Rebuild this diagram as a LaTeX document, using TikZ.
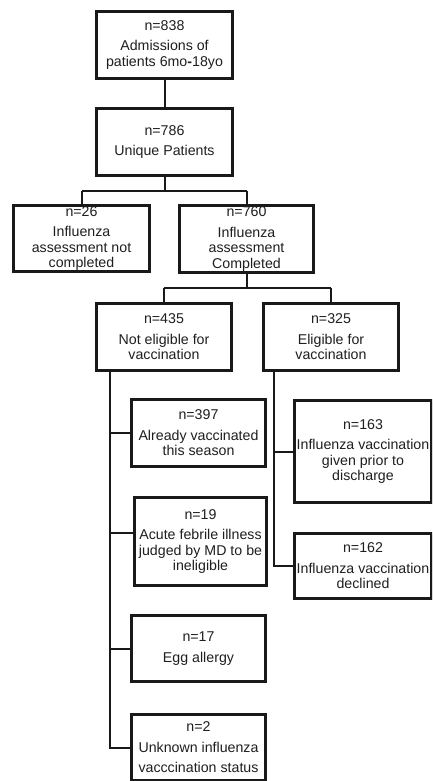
\documentclass[tikz,border=0pt]{standalone}
\usepackage{fontspec}
\setmainfont{Liberation Sans}
\usetikzlibrary{shadows}
\begin{document}
\begin{tikzpicture}[x=1pt,y=-1pt,
  box/.style={draw=black!90, line width=2.8pt, fill=white, align=center, inner sep=1pt,
    font=\fontsize{14.2}{15.5}\selectfont, text=black!88,
    drop shadow={shadow xshift=1.2pt, shadow yshift=-1.2pt, opacity=0.3, fill=black}},
  conn/.style={draw=black!90, line width=2pt}]
\useasboundingbox (0,0) rectangle (432,781);
\begin{scope}
\clip (0,0) rectangle (432,781);
\node[box, minimum width=136.2pt, minimum height=67.2pt] (b1) at (164.5,45) {n=838\\[5pt]Admissions of\\patients 6mo\textbf{-}18yo};
\node[box, minimum width=136.2pt, minimum height=67.2pt] (b2) at (164.5,142) {n=786\\[5pt]Unique Patients};
\node[box, minimum width=136.2pt, minimum height=64.2pt] (b3) at (81.5,238.5) {n=26\\[5pt]Influenza\\assessment not\\completed};
\node[box, minimum width=134.2pt, minimum height=65.2pt] (b4) at (246.5,239) {n=760\\[5pt]Influenza\\assessment\\Completed};
\node[box, minimum width=135.2pt, minimum height=67.2pt] (b5) at (164,337) {n=435\\[5pt]Not eligible for\\vaccination};
\node[box, minimum width=135.2pt, minimum height=67.2pt] (b6) at (331,337) {n=325\\[5pt]Eligible for\\vaccination};
\node[box, minimum width=134.2pt, minimum height=67.2pt] (b7) at (198.5,433) {n=397\\[5pt]Already vaccinated\\this season};
\node[box, minimum width=132.2pt, minimum height=88.2pt] (b8) at (200.5,541.5) {n=19\\[5pt]Acute febrile illness\\judged by MD to be\\ineligible};
\node[box, minimum width=134.2pt, minimum height=66.2pt] (b9) at (198.5,648.5) {n=17\\[5pt]Egg allergy};
\node[box, minimum width=134.2pt, minimum height=66.2pt] (b10) at (198.5,747.5) {n=2\\[5pt]Unknown influenza\\[5pt]vacccination status};
\node[box, minimum width=137.2pt, minimum height=102.2pt] (b11) at (363,451.5) {n=163\\[5pt]Influenza vaccination\\given prior to\\discharge};
\node[box, minimum width=137.2pt, minimum height=65.2pt] (b12) at (363,566) {n=162\\[5pt]Influenza vaccination\\declined};
\end{scope}
\coordinate (s2) at (0,191);
\coordinate (s4) at (0,288);
\coordinate (t5) at (110,0);
\coordinate (t6) at (274,0);
\coordinate (r8) at (0,533);
\draw[conn] (b1.south) -- (b2.north);
\draw[conn] (b2.south) -- (b2.south |- s2);
\draw[conn] (b3.north |- s2) -- (b4.north |- s2);
\draw[conn] (b3.north |- s2) -- (b3.north);
\draw[conn] (b4.north |- s2) -- (b4.north);
\draw[conn] (b4.south) -- (b4.south |- s4);
\draw[conn] (b5.north |- s4) -- (b6.north |- s4);
\draw[conn] (b5.north |- s4) -- (b5.north);
\draw[conn] (b6.north |- s4) -- (b6.north);
\draw[conn] (t5 |- b5.south) -- (t5 |- b10.west) -- (b10.west);
\draw[conn] (t5 |- b7.west) -- (b7.west);
\draw[conn] (t5 |- r8) -- (b8.west |- r8);
\draw[conn] (t5 |- b9.west) -- (b9.west);
\draw[conn] (t6 |- b6.south) -- (t6 |- b12.west) -- (b12.west);
\draw[conn] (t6 |- b11.west) -- (b11.west);
\end{tikzpicture}
\end{document}
